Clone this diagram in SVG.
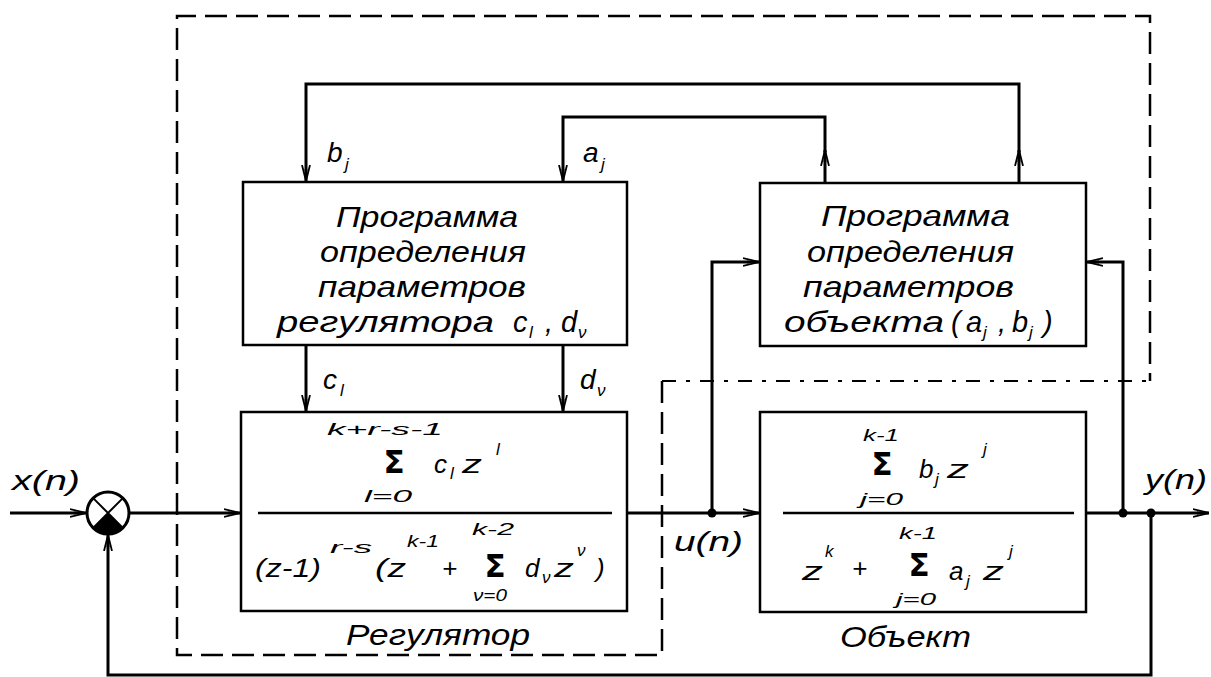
<svg xmlns="http://www.w3.org/2000/svg" width="1211" height="677" viewBox="0 0 1211 677">
<style>
.box{fill:none;stroke:#000;stroke-width:2.5}
.ln{fill:none;stroke:#000;stroke-width:3}
.dash{fill:none;stroke:#000;stroke-width:2.5;stroke-dasharray:22 9}
.dd{fill:none;stroke:#000;stroke-width:2;stroke-dasharray:14 10 4 10}
.t{font-family:"Liberation Sans",Arial,sans-serif;font-style:italic;fill:#000}
.big{font-size:29px}
.lb{font-size:28px}
.m{font-size:26px}
.s{font-size:17px}
.sub{font-size:17px}
.sig{font-family:"DejaVu Sans",sans-serif;font-weight:bold;font-size:31px;fill:#000;text-anchor:middle}
</style>
<defs>
<marker id="ah" viewBox="0 0 16 10" refX="16" refY="5" markerWidth="16" markerHeight="10" markerUnits="userSpaceOnUse" orient="auto">
<path d="M0,1 L16,5 L0,9" fill="none" stroke="#000" stroke-width="1.8"/>
<path d="M4,3.6 L16,5 L4,6.4 Z" fill="#000"/>
</marker>
</defs>
<rect width="1211" height="677" fill="#fff"/>

<g id="adaptive-boundary">
<path class="dash" d="M662,381 V655 H177 V16 H1150 V381"/>
<path class="dd" d="M662,381 H1150"/>
</g>

<g id="connectors">
<path class="ln" d="M10,513 H86" marker-end="url(#ah)"/>
<path class="ln" d="M129,513 H240" marker-end="url(#ah)"/>
<path class="ln" d="M627,513 H759" marker-end="url(#ah)"/>
<path class="ln" d="M1086,513 H1209" marker-end="url(#ah)"/>
<path class="ln" d="M712,513 V262 H759" marker-end="url(#ah)"/>
<path class="ln" d="M1123,513 V262 H1087" marker-end="url(#ah)"/>
<path class="ln" d="M1151,513 V675 H108 V535" marker-end="url(#ah)"/>
<path class="ln" d="M1019,183 V150" marker-end="url(#ah)"/>
<path class="ln" d="M1019,152 V84 H306 V181" marker-end="url(#ah)"/>
<path class="ln" d="M825,183 V150" marker-end="url(#ah)"/>
<path class="ln" d="M825,152 V117 H563 V181" marker-end="url(#ah)"/>
<path class="ln" d="M306,345 V411" marker-end="url(#ah)"/>
<path class="ln" d="M563,345 V411" marker-end="url(#ah)"/>
<circle cx="712" cy="513" r="4.5"/>
<circle cx="1123" cy="513" r="4.5"/>
<circle cx="1151" cy="513" r="4.5"/>
<text class="t lb" x="327" y="162">b</text><text class="t sub" x="345" y="170">j</text>
<text class="t lb" x="583" y="162">a</text><text class="t sub" x="601" y="170">j</text>
<text class="t lb" x="323" y="389">c</text><text class="t sub" x="340" y="396">l</text>
<text class="t lb" x="580" y="389">d</text><text class="t sub" x="597" y="396">ν</text>
<text class="t lb" x="12" y="490" textLength="68" lengthAdjust="spacingAndGlyphs">x(n)</text>
<text class="t lb" x="674" y="551" textLength="69" lengthAdjust="spacingAndGlyphs">u(n)</text>
<text class="t lb" x="1145" y="489" textLength="62" lengthAdjust="spacingAndGlyphs">y(n)</text>
</g>

<g id="summer">
<circle cx="108" cy="513" r="21" fill="#fff" stroke="#000" stroke-width="3"/>
<path d="M108,513 L93.15,527.85 A21,21 0 0 0 122.85,527.85 Z" fill="#000"/>
<path d="M93.15,498.15 L122.85,527.85 M122.85,498.15 L93.15,527.85" stroke="#000" stroke-width="2"/>
</g>

<g id="regulator-program">
<rect class="box" x="243" y="182" width="384" height="163"/>
<text class="t big" x="336" y="227" textLength="182" lengthAdjust="spacingAndGlyphs">Программа</text>
<text class="t big" x="320" y="262" textLength="206" lengthAdjust="spacingAndGlyphs">определения</text>
<text class="t big" x="318" y="297" textLength="208" lengthAdjust="spacingAndGlyphs">параметров</text>
<text class="t big" x="277" y="332" textLength="217" lengthAdjust="spacingAndGlyphs">регулятора</text>
<text class="t big" x="513" y="332">c</text><text class="t sub" x="529" y="338">l</text>
<text class="t big" x="545" y="332">,</text>
<text class="t big" x="561" y="332">d</text><text class="t sub" x="578" y="338">ν</text>
</g>

<g id="object-program">
<rect class="box" x="760" y="183" width="326" height="163"/>
<text class="t big" x="821" y="226" textLength="189" lengthAdjust="spacingAndGlyphs">Программа</text>
<text class="t big" x="807" y="262" textLength="207" lengthAdjust="spacingAndGlyphs">определения</text>
<text class="t big" x="803" y="297" textLength="211" lengthAdjust="spacingAndGlyphs">параметров</text>
<text class="t big" x="784" y="332" textLength="160" lengthAdjust="spacingAndGlyphs">объекта</text>
<text class="t big" x="951" y="332">(</text>
<text class="t big" x="966" y="332">a</text><text class="t sub" x="983" y="338">j</text>
<text class="t big" x="998" y="332">,</text>
<text class="t big" x="1012" y="332">b</text><text class="t sub" x="1029" y="338">j</text>
<text class="t big" x="1043" y="332">)</text>
</g>

<g id="regulator">
<rect class="box" x="241" y="412" width="386" height="199"/>
<text class="t s" x="327" y="435" textLength="116" lengthAdjust="spacingAndGlyphs">k+r-s-1</text>
<text class="sig" x="394" y="473">Σ</text>
<text class="t m" x="434" y="473">c</text><text class="t sub" x="450" y="479">l</text>
<text class="t m" x="462" y="473" textLength="20" lengthAdjust="spacingAndGlyphs">z</text><text class="t sub" x="496" y="455">l</text>
<text class="t s" x="364" y="502" textLength="48" lengthAdjust="spacingAndGlyphs">l=0</text>
<line x1="258" y1="513" x2="612" y2="513" stroke="#000" stroke-width="2.5"/>
<text class="t m" x="255" y="577" textLength="66" lengthAdjust="spacingAndGlyphs">(z-1)</text>
<text class="t s" x="330" y="553" textLength="42" lengthAdjust="spacingAndGlyphs">r-s</text>
<text class="t m" x="375" y="577" textLength="31" lengthAdjust="spacingAndGlyphs">(z</text>
<text class="t s" x="407" y="547" textLength="32" lengthAdjust="spacingAndGlyphs">k-1</text>
<text class="t m" x="442" y="577">+</text>
<text class="t s" x="472" y="535" textLength="42" lengthAdjust="spacingAndGlyphs">k-2</text>
<text class="sig" x="495" y="577">Σ</text>
<text class="t s" x="473" y="601" textLength="34" lengthAdjust="spacingAndGlyphs">ν=0</text>
<text class="t m" x="525" y="577">d</text><text class="t sub" x="542" y="583">ν</text>
<text class="t m" x="554" y="577" textLength="20" lengthAdjust="spacingAndGlyphs">z</text><text class="t sub" x="577" y="556">ν</text>
<text class="t m" x="596" y="577">)</text>
<text class="t big" x="346" y="645" textLength="184" lengthAdjust="spacingAndGlyphs">Регулятор</text>
</g>

<g id="object">
<rect class="box" x="760" y="412" width="326" height="200"/>
<text class="t s" x="863" y="441" textLength="36" lengthAdjust="spacingAndGlyphs">k-1</text>
<text class="sig" x="882" y="475">Σ</text>
<text class="t m" x="919" y="478">b</text><text class="t sub" x="935" y="485">j</text>
<text class="t m" x="947" y="478" textLength="22" lengthAdjust="spacingAndGlyphs">z</text><text class="t sub" x="983" y="455">j</text>
<text class="t s" x="860" y="505" textLength="43" lengthAdjust="spacingAndGlyphs">j=0</text>
<line x1="783" y1="513" x2="1074" y2="513" stroke="#000" stroke-width="2.5"/>
<text class="t m" x="802" y="580" textLength="21" lengthAdjust="spacingAndGlyphs">z</text><text class="t s" x="825" y="557">k</text>
<text class="t m" x="852" y="577">+</text>
<text class="t s" x="899" y="539" textLength="38" lengthAdjust="spacingAndGlyphs">k-1</text>
<text class="sig" x="919" y="576">Σ</text>
<text class="t m" x="949" y="580">a</text><text class="t sub" x="966" y="587">j</text>
<text class="t m" x="983" y="580" textLength="21" lengthAdjust="spacingAndGlyphs">z</text><text class="t sub" x="1009" y="557">j</text>
<text class="t s" x="896" y="605" textLength="40" lengthAdjust="spacingAndGlyphs">j=0</text>
<text class="t big" x="840" y="647" textLength="131" lengthAdjust="spacingAndGlyphs">Объект</text>
</g>
</svg>
